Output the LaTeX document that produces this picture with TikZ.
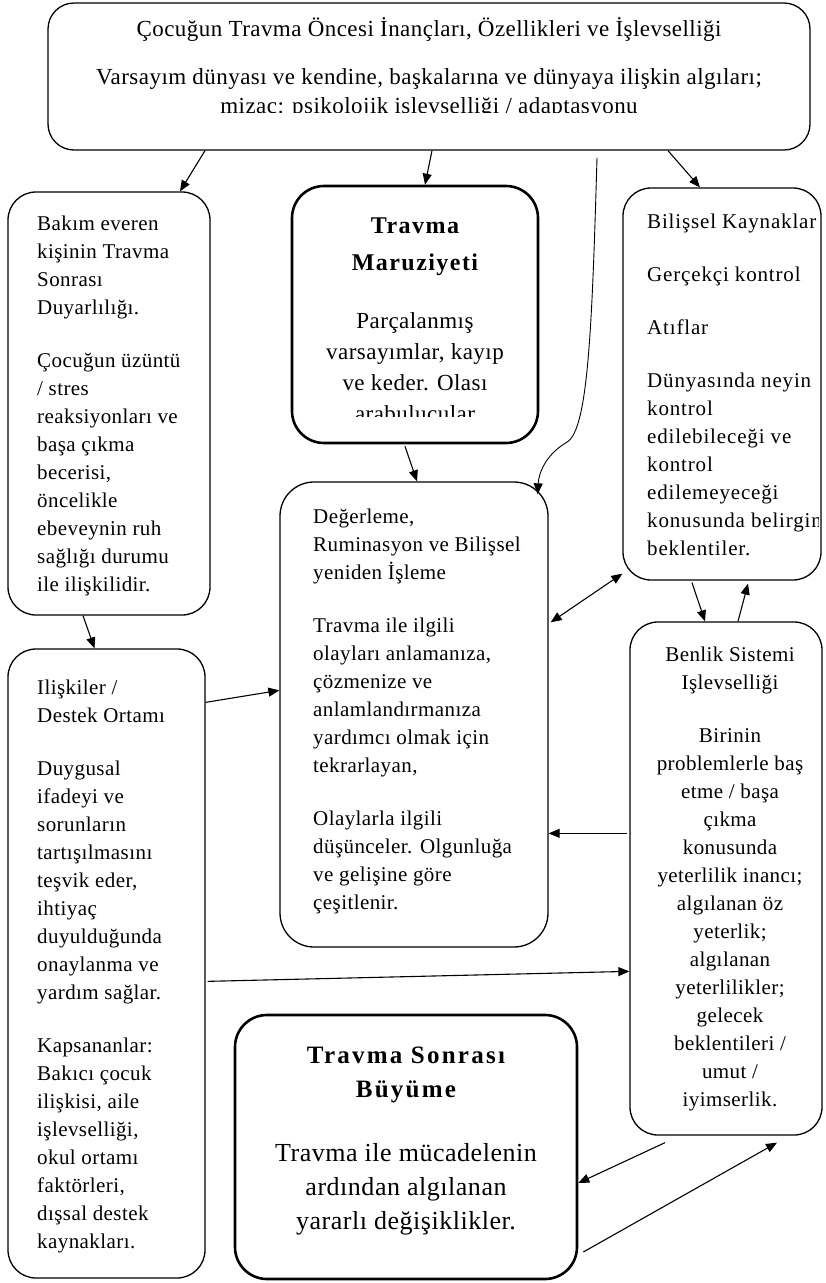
\documentclass[tikz,border=0pt]{standalone}
\usepackage{fontspec}
\setmainfont{Liberation Serif}
\newfontfamily\boxfam{Liberation Serif}[LetterSpace=2]
\newfontfamily\widefam{Liberation Serif}[LetterSpace=4]
\newfontfamily\headfam{Liberation Serif}[LetterSpace=6]
\newfontfamily\growfam{Liberation Serif}[LetterSpace=9]
\usetikzlibrary{arrows.meta,calc,positioning}
\tikzset{
    box/.style={draw, rounded corners=28pt, line width=1.3pt},
    keybox/.style={box, line width=2.6pt, rounded corners=32pt},
    txt/.style={inner sep=0pt, anchor=north west, align=left,
        font=\boxfam\fontsize{21}{28}\selectfont},
    ctxt/.style={txt, anchor=north, align=center},
    link/.style={->, line width=1.1pt},
}

\begin{document}
\begin{tikzpicture}[x=1pt, y=-1pt, >={Triangle[length=11pt,width=9pt]}]
    \useasboundingbox (0,0) rectangle (825,1283);

    % Boxes.
    \node[box, minimum width=762pt, minimum height=147pt, rounded corners=26pt] (top) at (429,76.5) {};
    \node[box, minimum width=202pt, minimum height=423pt] (bakim) at (109,403.5) {};
    \node[keybox, minimum width=246pt, minimum height=257pt] (maruz) at (415,314.5) {};
    \node[box, minimum width=198pt, minimum height=392pt] (bilis) at (722,384) {};
    \node[box, minimum width=268pt, minimum height=465pt, rounded corners=34pt] (deger) at (414,714.5) {};
    \node[box, minimum width=197pt, minimum height=629pt] (iliski) at (106.5,963.5) {};
    \node[box, minimum width=192pt, minimum height=513pt] (benlik) at (726,878.5) {};
    \node[keybox, minimum width=342pt, minimum height=264pt] (buyume) at (406,1147) {};

    % Texts.
    \begin{scope}
        \clip (48,3) rectangle (810,112);
        \node[ctxt, font=\boxfam\fontsize{23}{29}\selectfont] (toptxt) at (429,17)
            {Çocuğun Travma Öncesi İnançları, Özellikleri ve İşlevselliği\\[19pt]
             Varsayım dünyası ve kendine, başkalarına ve dünyaya ilişkin algıları;\\
             mizaç: psikolojik işlevselliği / adaptasyonu};
    \end{scope}

    \node[txt] (bakimtxt) at (37,216)
        {Bakım everen\\kişinin Travma\\Sonrası\\Duyarlılığı.\\[25pt]
         Çocuğun üzüntü\\/ stres\\reaksiyonları ve\\başa çıkma\\becerisi,\\
         öncelikle\\ebeveynin ruh\\sağlığı durumu\\ile ilişkilidir.};

    \node[ctxt, font=\headfam\bfseries\fontsize{24}{37}\selectfont] (maruzhead) at (415,218)
        {Travma\\Maruziyeti};
    \begin{scope}
        \clip (292,186) rectangle (538,416);
        \node[ctxt, font=\boxfam\fontsize{23}{31}\selectfont, below=36pt of maruzhead] (maruztxt)
            {Parçalanmış\\varsayımlar, kayıp\\ve keder. Olası\\arabulucular};
    \end{scope}

    \begin{scope}
        \clip (623,188) rectangle (818,580);
        \node[txt, font=\widefam\fontsize{21}{28}\selectfont] (bilistxt) at (647,214)
            {Bilişsel Kaynaklar\\[25pt]Gerçekçi kontrol\\[25pt]Atıflar\\[25pt]
             Dünyasında neyin\\kontrol\\edilebileceği ve\\kontrol\\edilemeyeceği\\
             konusunda belirgin\\beklentiler.};
    \end{scope}

    \node[txt] (degertxt) at (313,509)
        {Değerleme,\\Ruminasyon ve Bilişsel\\yeniden İşleme\\[25pt]
         Travma ile ilgili\\olayları anlamanıza,\\çözmenize ve\\anlamlandırmanıza\\
         yardımcı olmak için\\tekrarlayan,\\[25pt]
         Olaylarla ilgili\\düşünceler. Olgunluğa\\ve gelişine göre\\çeşitlenir.};

    \node[txt] (ilisktxt) at (37,680)
        {Ilişkiler /\\Destek Ortamı\\[25pt]
         Duygusal\\ifadeyi ve\\sorunların\\tartışılmasını\\teşvik eder,\\ihtiyaç\\
         duyulduğunda\\onaylanma ve\\yardım sağlar.\\[25pt]
         Kapsananlar:\\Bakıcı çocuk\\ilişkisi, aile\\işlevselliği,\\okul ortamı\\
         faktörleri,\\dışsal destek\\kaynakları.};

    \node[ctxt] (benliktxt) at (730,647)
        {Benlik Sistemi\\Işlevselliği\\[25pt]
         Birinin\\problemlerle baş\\etme / başa\\çıkma\\konusunda\\yeterlilik inancı;\\
         algılanan öz\\yeterlik;\\algılanan\\yeterlilikler;\\gelecek\\beklentileri /\\
         umut /\\iyimserlik.};

    \node[ctxt, font=\growfam\bfseries\fontsize{25}{34}\selectfont] (buyumehead) at (406,1047)
        {Travma Sonrası\\Büyüme};
    \node[ctxt, font=\boxfam\fontsize{26}{34}\selectfont, below=40pt of buyumehead] (buyumetxt)
        {Travma ile mücadelenin\\ardından algılanan\\yararlı değişiklikler.};

    % Connectors.
    \draw[link] ($(top.south)+(-224,0)$) -- ($(bakim.north)+(71,0)$);
    \draw[link] ($(top.south)+(3,0)$) -- ($(maruz.north)+(10,0)$);
    \draw[link] ($(top.south)+(239,0)$) -- ($(bilis.north)+(-22,0)$);
    \draw[->, line width=0.9pt] ($(top.south)+(168,7)$)
        .. controls ($(top.south)+(163,180)$) and ($(top.south)+(159,280)$) .. ($(deger.north east)+(18,-39)$)
        .. controls ($(deger.north east)+(-4,-26)$) and ($(deger.north east)+(-10,-7)$) .. ($(deger.north east)+(-11,13)$);
    \draw[link] ($(maruz.south)+(-10,2)$) -- ($(deger.north)+(3,0)$);
    \draw[link] ($(bakim.south)+(-26,0)$) -- ($(iliski.north)+(-12,0)$);
    \draw[link] ($(iliski.north east)+(0,54)$) -- ($(deger.north west)+(0,209)$);
    \draw[link, <->] ($(deger.north east)+(2,141)$) -- ($(bilis.south west)+(0,-7)$);
    \draw[link] ($(bilis.south)+(-30,2)$) -- ($(benlik.north)+(-21,0)$);
    \draw[link] ($(benlik.north)+(12,0)$) -- ($(bilis.south)+(26,3)$);
    \draw[link] ($(benlik.north west)+(-2,212)$) -- ($(deger.north east)+(0,352)$);
    \draw[link] ($(iliski.north east)+(2,333)$) -- ($(benlik.north west)+(0,350)$);
    \draw[link] ($(benlik.south)+(-61,7)$) -- ($(buyume.east)+(0,36)$);
    \draw[link] ($(buyume.east)+(5,105)$) -- ($(benlik.south)+(51,7)$);
\end{tikzpicture}
\end{document}
